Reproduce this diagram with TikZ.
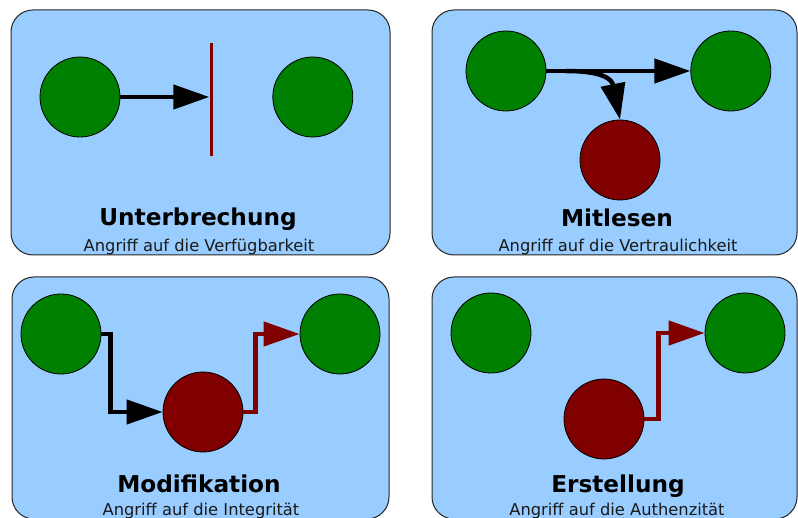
\documentclass[tikz,border=0pt]{standalone}
\usepackage{fontspec}
\setmainfont{DejaVu Sans}
\usepackage{tikz}
\usetikzlibrary{arrows.meta,positioning}
\definecolor{panelblue}{RGB}{153, 204, 255}
\definecolor{hostgreen}{RGB}{0, 128, 0}
\definecolor{attacker}{RGB}{128, 0, 0}
\tikzstyle{panel} = [draw=black!85, line width=1pt, fill=panelblue, rounded corners=22pt]
\tikzstyle{host} = [circle, draw=black, line width=0.8pt, fill=hostgreen, minimum size=80pt, inner sep=0pt]
\tikzstyle{intruder} = [host, fill=attacker]
\tikzstyle{cut} = [rectangle, fill=attacker, minimum width=3pt, minimum height=113pt, inner sep=0pt]
\tikzstyle{title} = [anchor=base, font=\bfseries\fontsize{23.2}{26}\selectfont]
\tikzstyle{subtitle} = [anchor=base, text=black!90, font=\fontsize{16.3}{19}\selectfont]
\tikzstyle{flow} = [draw, line width=4.5pt, -{Triangle[length=36pt,width=24pt]}]
\tikzstyle{badflow} = [flow, draw=attacker]

\begin{document}
\begin{tikzpicture}[x=1pt, y=-1pt]
\useasboundingbox (0,0) rectangle (798,518);

% panels =================================
\draw[panel] (11,10) rectangle (390,255);
\draw[panel] (432,10) rectangle (797,255);
\draw[panel] (12,277) rectangle (389,519);
\draw[panel] (432,277) rectangle (797,519);

% interruption ===========================
\node[host] (snd1) at (80,97) {};
\node[host, right=152pt of snd1] (rcv1) {};
\node[cut] (cut1) at (211,100) {};
\node[title] (t1) at (198,226) {Unterbrechung};
\node[subtitle] (st1) at (199,252) {Angriff auf die Verfügbarkeit};
\path[flow] (snd1.east) -- (snd1.east -| cut1.west);

% interception ===========================
\node[host] (snd2) at (506,71) {};
\node[host, right=144pt of snd2] (rcv2) {};
\node[intruder] (evil2) at (620,160) {};
\coordinate (tap2) at (566,71);
\node[title] (t2) at (617,227) {Mitlesen};
\node[subtitle] (st2) at (618,252) {Angriff auf die Vertraulichkeit};
\path[flow] (snd2) -- (rcv2);
\path[flow] (tap2) .. controls +(38,0) and +(-8,-40) .. (evil2.north);

% modification ===========================
\node[host] (snd3) at (61,334) {};
\node[host] (rcv3) at (340,334) {};
\node[intruder] (evil3) at (203,412) {};
\node[title] (t3) at (199,492) {Modifikation};
\node[subtitle] (st3) at (201,515) {Angriff auf die Integrität};
\path[flow] (snd3.east) -- ++(9,0) |- (evil3);
\path[badflow] (evil3.east) -- ++(12,0) |- (rcv3);

% fabrication ============================
\node[host] (snd4) at (491,333) {};
\node[host] (rcv4) at (745,333) {};
\node[intruder] (evil4) at (604,419) {};
\node[title] (t4) at (618,492) {Erstellung};
\node[subtitle] (st4) at (617,515) {Angriff auf die Authenzität};
\path[badflow] (evil4.east) -- ++(14,0) |- (rcv4);

\end{tikzpicture}
\end{document}
